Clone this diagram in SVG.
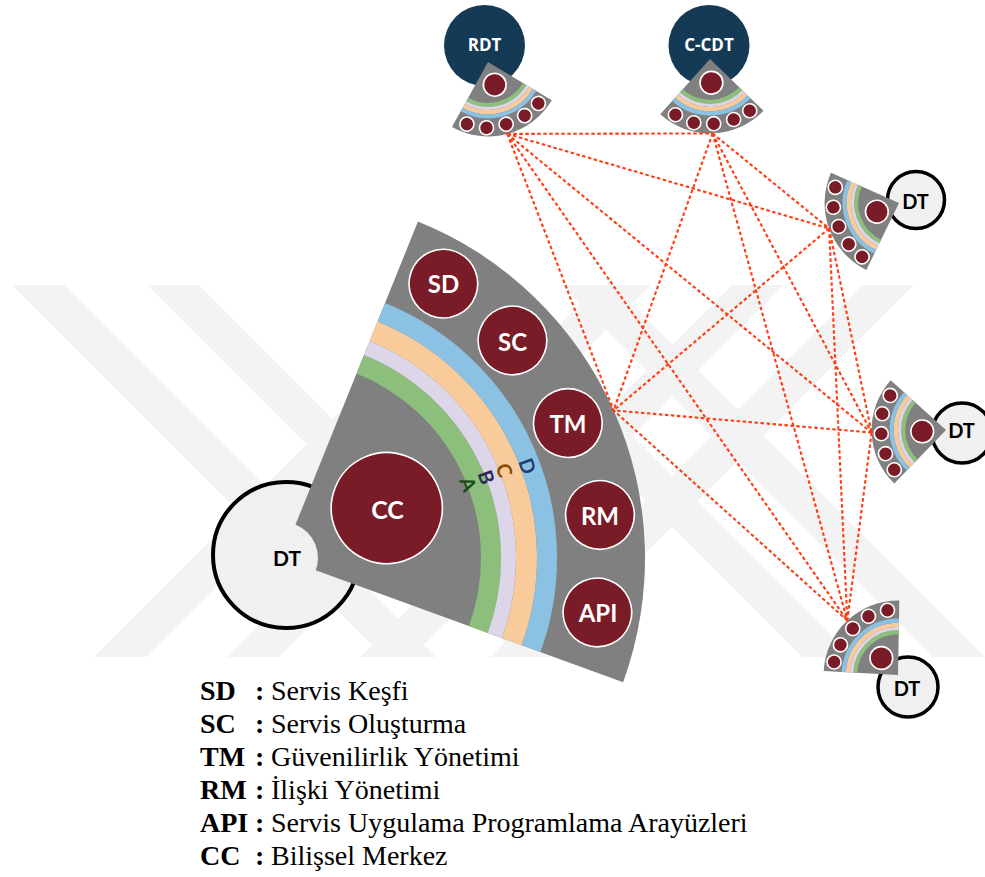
<svg xmlns="http://www.w3.org/2000/svg" xmlns:xlink="http://www.w3.org/1999/xlink" width="985" height="877" viewBox="0 0 985 877">
  <style>
    .wm { fill: #f3f3f3; }
    .fanbg { fill: #808080; }
    .band { fill: none; }
    .dot { fill: #7a1c28; stroke: #ffffff; stroke-width: 1.6; }
    .dt { fill: #f0f0f0; stroke: #000000; }
    .navy { fill: #143a56; }
    .lbl { font-family: Lato, "Open Sans", "DejaVu Sans", sans-serif; font-weight: 700; text-anchor: middle; dominant-baseline: central; }
    .head { font-family: "Open Sans", "DejaVu Sans", sans-serif; font-weight: 700; text-anchor: middle; dominant-baseline: central; }
    .white { fill: #ffffff; }
    .black { fill: #000000; }
    .link { fill: none; stroke: #ff3d12; stroke-width: 2.1; stroke-dasharray: 3.5 2.5; }
    .legend { font-family: "Liberation Serif", "Times New Roman", serif; font-size: 28px; fill: #000000; }
    .b { font-weight: 700; }
  </style>
  <defs>
    <!-- quarter fan in local coordinates: apex at origin, axis along +x, radius 363 -->
    <g id="fan">
      <path class="fanbg" d="M0,0 L261.12,-252.16 A363,363 0 0 1 261.12,252.16 Z"/>
      <path class="band" stroke="#8cbf7c" stroke-width="20" d="M150.34,-145.18 A209,209 0 0 1 150.34,145.18"/>
      <path class="band" stroke="#ddd6e8" stroke-width="15" d="M162.93,-157.34 A226.5,226.5 0 0 1 162.93,157.34"/>
      <path class="band" stroke="#f9cb9b" stroke-width="21" d="M175.88,-169.84 A244.5,244.5 0 0 1 175.88,169.84"/>
      <path class="band" stroke="#8bc2e3" stroke-width="20" d="M190.63,-184.08 A265,265 0 0 1 190.63,184.08"/>
      <circle class="dot" vector-effect="non-scaling-stroke" cx="116" cy="-3" r="55.5"/>
      <circle class="dot" vector-effect="non-scaling-stroke" cx="259" cy="-185" r="34.3"/>
      <circle class="dot" vector-effect="non-scaling-stroke" cx="299" cy="-105" r="34.3"/>
      <circle class="dot" vector-effect="non-scaling-stroke" cx="316" cy="-7" r="34.3"/>
      <circle class="dot" vector-effect="non-scaling-stroke" cx="308" cy="90" r="34.3"/>
      <circle class="dot" vector-effect="non-scaling-stroke" cx="266" cy="178" r="34.3"/>
    </g>
  </defs>

  <rect width="985" height="877" fill="#ffffff"/>

  <!-- background stripes -->
  <g id="watermark" class="wm">
    <polygon points="12,285 64,285 436,657 384,657"/>
    <polygon points="147,285 199,285 571,657 519,657"/>
    <polygon points="430,285 482,285 854,657 802,657"/>
    <polygon points="561,285 613,285 985,657 933,657"/>
    <polygon points="94,657 146,657 518,285 466,285"/>
    <polygon points="227,657 279,657 651,285 599,285"/>
    <polygon points="360,657 412,657 784,285 732,285"/>
    <polygon points="490,657 542,657 914,285 862,285"/>
  </g>

  <!-- main twin with labelled services -->
  <g id="node-dt-main">
    <circle class="dt" stroke-width="4" cx="286" cy="555" r="73"/>
    <use xlink:href="#fan" transform="translate(282,558) rotate(-24)"/>
    <circle fill="#f0f0f0" cx="282" cy="558" r="36"/>
    <text class="lbl black" x="287" y="557" font-size="21">DT</text>
    <text class="lbl white" x="443.5" y="283.5" font-size="24">SD</text>
    <text class="lbl white" x="512.5" y="341" font-size="24">SC</text>
    <text class="lbl white" x="568" y="423.5" font-size="24">TM</text>
    <text class="lbl white" x="600" y="515" font-size="24">RM</text>
    <text class="lbl white" x="598" y="612" font-size="24">API</text>
    <text class="lbl white" x="387.5" y="508.5" font-size="25">CC</text>
    <text class="lbl" x="528" y="466" font-size="20" fill="#1f3f6e" transform="rotate(70 528 466)">D</text>
    <text class="lbl" x="505" y="470" font-size="20" fill="#8a4d00" transform="rotate(70 505 470)">C</text>
    <text class="lbl" x="487" y="477" font-size="20" fill="#2e2a4f" transform="rotate(70 487 477)">B</text>
    <text class="lbl" x="469" y="484" font-size="20" fill="#1e4a1e" transform="rotate(70 469 484)">A</text>
  </g>

  <g id="node-rdt">
    <circle class="navy" cx="484.5" cy="45.5" r="40.5"/>
    <use xlink:href="#fan" transform="translate(488,62) rotate(75) scale(0.205)"/>
    <text class="head white" x="484.5" y="44" font-size="17">RDT</text>
  </g>

  <g id="node-ccdt">
    <circle class="navy" cx="709" cy="45.5" r="40.5"/>
    <use xlink:href="#fan" transform="translate(710,59) rotate(88) scale(0.205)"/>
    <text class="head white" x="709" y="44" font-size="17">C-CDT</text>
  </g>

  <g id="node-dt-1">
    <circle class="dt" stroke-width="3.5" cx="916" cy="200" r="28.5"/>
    <use xlink:href="#fan" transform="translate(899,203) rotate(160) scale(0.205)"/>
    <text class="lbl black" x="915.5" y="201" font-size="20">DT</text>
  </g>

  <g id="node-dt-2">
    <circle class="dt" stroke-width="3.5" cx="962" cy="433" r="30"/>
    <use xlink:href="#fan" transform="translate(946,430) rotate(178) scale(0.205)"/>
    <text class="lbl black" x="961.5" y="430" font-size="20">DT</text>
  </g>

  <g id="node-dt-3">
    <circle class="dt" stroke-width="3.5" cx="908" cy="687" r="30"/>
    <use xlink:href="#fan" transform="translate(898,675) rotate(-133) scale(0.205)"/>
    <text class="lbl black" x="907" y="688" font-size="20">DT</text>
  </g>

  <!-- full mesh between the six twins -->
  <g id="connectors" class="link">
    <line x1="507.3" y1="133.9" x2="712.6" y2="133.4"/>
    <line x1="507.3" y1="133.9" x2="829.1" y2="228.4"/>
    <line x1="507.3" y1="133.9" x2="871.6" y2="432.6"/>
    <line x1="507.3" y1="133.9" x2="847.3" y2="620.6"/>
    <line x1="507.3" y1="133.9" x2="613.6" y2="410.4"/>
    <line x1="712.6" y1="133.4" x2="829.1" y2="228.4"/>
    <line x1="712.6" y1="133.4" x2="871.6" y2="432.6"/>
    <line x1="712.6" y1="133.4" x2="847.3" y2="620.6"/>
    <line x1="712.6" y1="133.4" x2="613.6" y2="410.4"/>
    <line x1="829.1" y1="228.4" x2="871.6" y2="432.6"/>
    <line x1="829.1" y1="228.4" x2="847.3" y2="620.6"/>
    <line x1="829.1" y1="228.4" x2="613.6" y2="410.4"/>
    <line x1="871.6" y1="432.6" x2="847.3" y2="620.6"/>
    <line x1="871.6" y1="432.6" x2="613.6" y2="410.4"/>
    <line x1="847.3" y1="620.6" x2="613.6" y2="410.4"/>
  </g>

  <g id="legend" class="legend">
    <text y="700"><tspan class="b" x="200">SD</tspan><tspan class="b" x="255">:</tspan><tspan x="271">Servis Keşfi</tspan></text>
    <text y="733"><tspan class="b" x="200">SC</tspan><tspan class="b" x="255">:</tspan><tspan x="271">Servis Oluşturma</tspan></text>
    <text y="766"><tspan class="b" x="200">TM</tspan><tspan class="b" x="255">:</tspan><tspan x="271">Güvenilirlik Yönetimi</tspan></text>
    <text y="799"><tspan class="b" x="200">RM</tspan><tspan class="b" x="255">:</tspan><tspan x="271">İlişki Yönetimi</tspan></text>
    <text y="832"><tspan class="b" x="200">API</tspan><tspan class="b" x="255">:</tspan><tspan x="271">Servis Uygulama Programlama Arayüzleri</tspan></text>
    <text y="865"><tspan class="b" x="200">CC</tspan><tspan class="b" x="255">:</tspan><tspan x="271">Bilişsel Merkez</tspan></text>
  </g>
</svg>
